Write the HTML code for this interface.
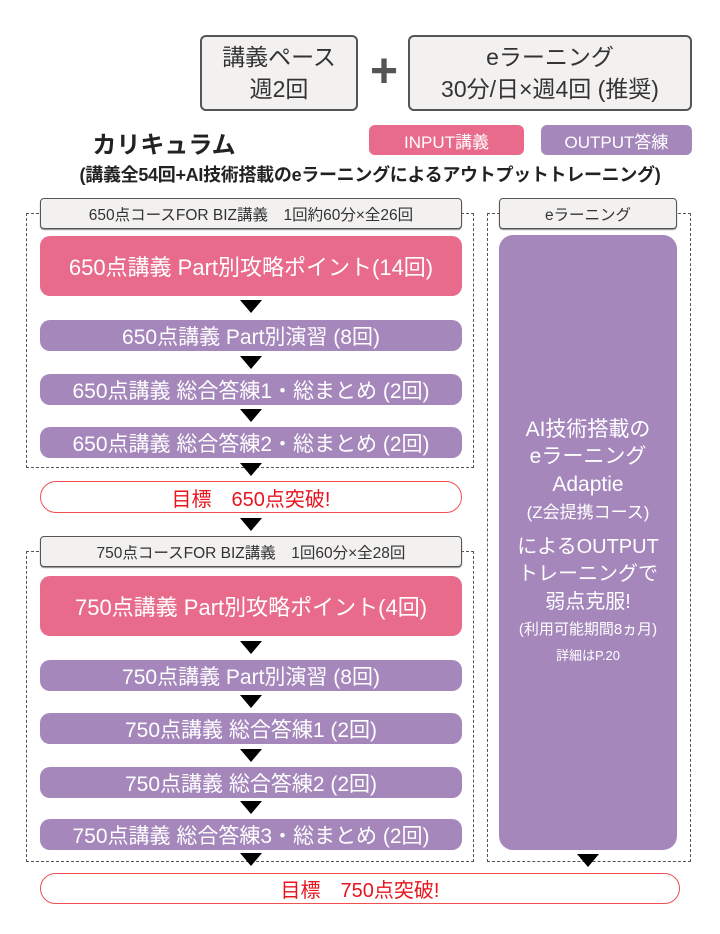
<!DOCTYPE html>
<html><head><meta charset="utf-8"><style>
*{margin:0;padding:0;box-sizing:border-box}
body{width:720px;height:934px;background:#fff;position:relative;overflow:hidden;font-family:"Liberation Sans","Noto Sans CJK JP",sans-serif}
div{position:absolute}
.c{display:flex;align-items:center;justify-content:center;text-align:center;white-space:nowrap}
.gb{background:#f2f1f0;border:2px solid #555;border-radius:6px;color:#333}
.tab{background:#f2f1f0;border:1.5px solid #555;border-radius:4px;color:#333;font-size:15.5px;box-shadow:0 1px 1px #888}
.dash{border:1.5px dashed #555}
.pk{background:#e86b8b;color:#fff;border-radius:10px}
.pu{background:#a587bc;color:#fff;border-radius:10px}
.tri{width:0;height:0;border-left:11px solid transparent;border-right:11px solid transparent;border-top:13px solid #000}
.goal{border:1.5px solid #f05050;border-radius:16px;color:#e8141e;font-size:20px;background:#fff}
.rt div{position:static}
.b{font-size:21px}
</style></head><body>
<div class="gb c" style="left:200px;top:35px;width:158px;height:76px;font-size:23px;line-height:32px">講義ペース<br>週2回</div>
<div class="c" style="left:364px;top:48px;width:40px;height:46px;font-size:48px;font-weight:bold;color:#555">+</div>
<div class="gb c" style="left:408px;top:35px;width:284px;height:76px;font-size:23px;line-height:32px">eラーニング<br>30分/日×週4回 (推奨)</div>
<div class="c" style="left:88px;top:125px;width:152px;height:34px;font-size:24px;font-weight:bold;color:#222">カリキュラム</div>
<div class="c" style="left:369px;top:125px;width:155px;height:30px;background:#e86b8b;color:#fff;border-radius:6px;font-size:17px">INPUT講義</div>
<div class="c" style="left:541px;top:125px;width:151px;height:30px;background:#a587bc;color:#fff;border-radius:6px;font-size:17px">OUTPUT答練</div>
<div class="c" style="left:40px;top:160px;width:660px;height:28px;font-size:18px;font-weight:bold;color:#222;letter-spacing:-0.3px">(講義全54回+AI技術搭載のeラーニングによるアウトプットトレーニング)</div>

<div class="dash" style="left:26px;top:213px;width:448px;height:255px"></div>
<div class="dash" style="left:26px;top:551px;width:448px;height:311px"></div>
<div class="dash" style="left:487px;top:213px;width:204px;height:649px"></div>

<div class="tab c" style="left:40px;top:198px;width:422px;height:31px">650点コースFOR BIZ講義　1回約60分×全26回</div>
<div class="tab c" style="left:499px;top:198px;width:178px;height:31px">eラーニング</div>
<div class="pk c" style="left:40px;top:236px;width:422px;height:60px;font-size:22px">650点講義 Part別攻略ポイント(14回)</div>
<div class="tri" style="left:240px;top:300px"></div>
<div class="pu c b" style="left:40px;top:320px;width:422px;height:31px">650点講義 Part別演習 (8回)</div>
<div class="tri" style="left:240px;top:356px"></div>
<div class="pu c b" style="left:40px;top:374px;width:422px;height:31px">650点講義 総合答練1・総まとめ (2回)</div>
<div class="tri" style="left:240px;top:409px"></div>
<div class="pu c b" style="left:40px;top:427px;width:422px;height:31px">650点講義 総合答練2・総まとめ (2回)</div>
<div class="tri" style="left:240px;top:463px"></div>
<div class="goal c" style="left:40px;top:481px;width:422px;height:32px">目標　650点突破!</div>
<div class="tri" style="left:240px;top:518px"></div>

<div class="tab c" style="left:40px;top:536px;width:422px;height:31px">750点コースFOR BIZ講義　1回60分×全28回</div>
<div class="pk c" style="left:40px;top:576px;width:422px;height:60px;font-size:22px">750点講義 Part別攻略ポイント(4回)</div>
<div class="tri" style="left:240px;top:641px"></div>
<div class="pu c b" style="left:40px;top:660px;width:422px;height:31px">750点講義 Part別演習 (8回)</div>
<div class="tri" style="left:240px;top:695px"></div>
<div class="pu c b" style="left:40px;top:713px;width:422px;height:31px">750点講義 総合答練1 (2回)</div>
<div class="tri" style="left:240px;top:749px"></div>
<div class="pu c b" style="left:40px;top:767px;width:422px;height:31px">750点講義 総合答練2 (2回)</div>
<div class="tri" style="left:240px;top:801px"></div>
<div class="pu c b" style="left:40px;top:819px;width:422px;height:31px">750点講義 総合答練3・総まとめ (2回)</div>
<div class="tri" style="left:240px;top:853px"></div>
<div class="goal c" style="left:40px;top:873px;width:640px;height:31px">目標　750点突破!</div>

<div class="pu" style="left:499px;top:235px;width:178px;height:615px;border-radius:14px"></div>
<div class="c rt" style="left:499px;top:415px;width:178px;height:255px;flex-direction:column;color:#fff">
<div style="font-size:21px;line-height:27px">AI技術搭載の</div>
<div style="font-size:21px;line-height:27px">eラーニング</div>
<div style="font-size:21px;line-height:30px">Adaptie</div>
<div style="font-size:17px;line-height:26px">(Z会提携コース)</div>
<div style="font-size:20px;line-height:27px;margin-top:8px">によるOUTPUT</div>
<div style="font-size:20px;line-height:27px">トレーニングで</div>
<div style="font-size:20px;line-height:28px">弱点克服!</div>
<div style="font-size:15px;line-height:27px">(利用可能期間8ヵ月)</div>
<div style="font-size:13px;line-height:26px">詳細はP.20</div>
</div>
<div class="tri" style="left:577px;top:854px"></div>
</body></html>
